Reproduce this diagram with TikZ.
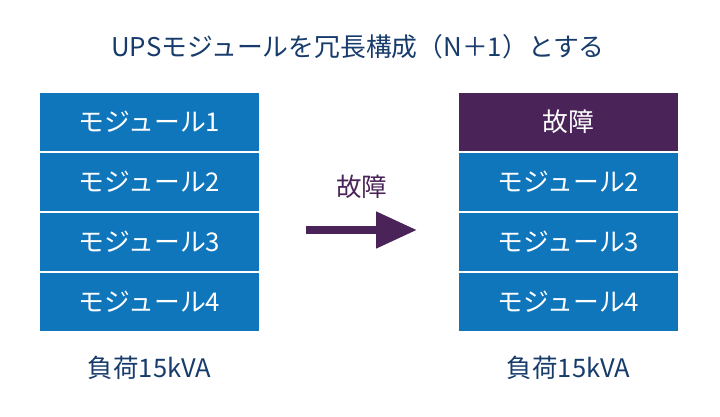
\documentclass[tikz,border=0pt]{standalone}
\usepackage{fontspec}
\setmainfont{Noto Sans CJK JP}
\usetikzlibrary{arrows.meta}

\definecolor{moduleblue}{HTML}{0F76BC}
\definecolor{faultpurple}{HTML}{4A2458}
\definecolor{textnavy}{HTML}{173B6B}

\tikzset{
  module/.style={fill=moduleblue,text=white,minimum width=219pt,minimum height=57.7pt,inner sep=0pt,font=\fontsize{25.8}{30}\selectfont},
  caption/.style={text=textnavy,inner sep=0pt,font=\fontsize{25.5}{30}\selectfont}
}

\begin{document}
\begin{tikzpicture}[x=1pt,y=1pt]
  \useasboundingbox (0,0) rectangle (720,416);

  \node[caption,font=\fontsize{25.8}{30}\selectfont] (title) at (358,369) {UPSモジュールを冗長構成（N＋1）とする};

  % before the fault
  \node[module] (left1) at (149.5,294.15) {モジュール1};
  \node[module] (left2) at (149.5,234.15) {モジュール2};
  \node[module] (left3) at (149.5,174.15) {モジュール3};
  \node[module] (left4) at (149.5,114.15) {モジュール4};
  \node[caption] (leftload) at (149.5,48) {負荷15kVA};

  % after the fault
  \node[module,fill=faultpurple] (right1) at (568.5,294.15) {故障};
  \node[module] (right2) at (568.5,234.15) {モジュール2};
  \node[module] (right3) at (568.5,174.15) {モジュール3};
  \node[module] (right4) at (568.5,114.15) {モジュール4};
  \node[caption] (rightload) at (568.5,48) {負荷15kVA};

  \coordinate (arrowstart) at (306,186);
  \coordinate (arrowend) at (417,186);
  \draw[faultpurple,line width=8pt,-{Triangle[length=41pt,width=35pt]}] (arrowstart) -- (arrowend);
  \node[caption,text=faultpurple] (faultlabel) at (361.5,229.3) {故障};
\end{tikzpicture}
\end{document}
